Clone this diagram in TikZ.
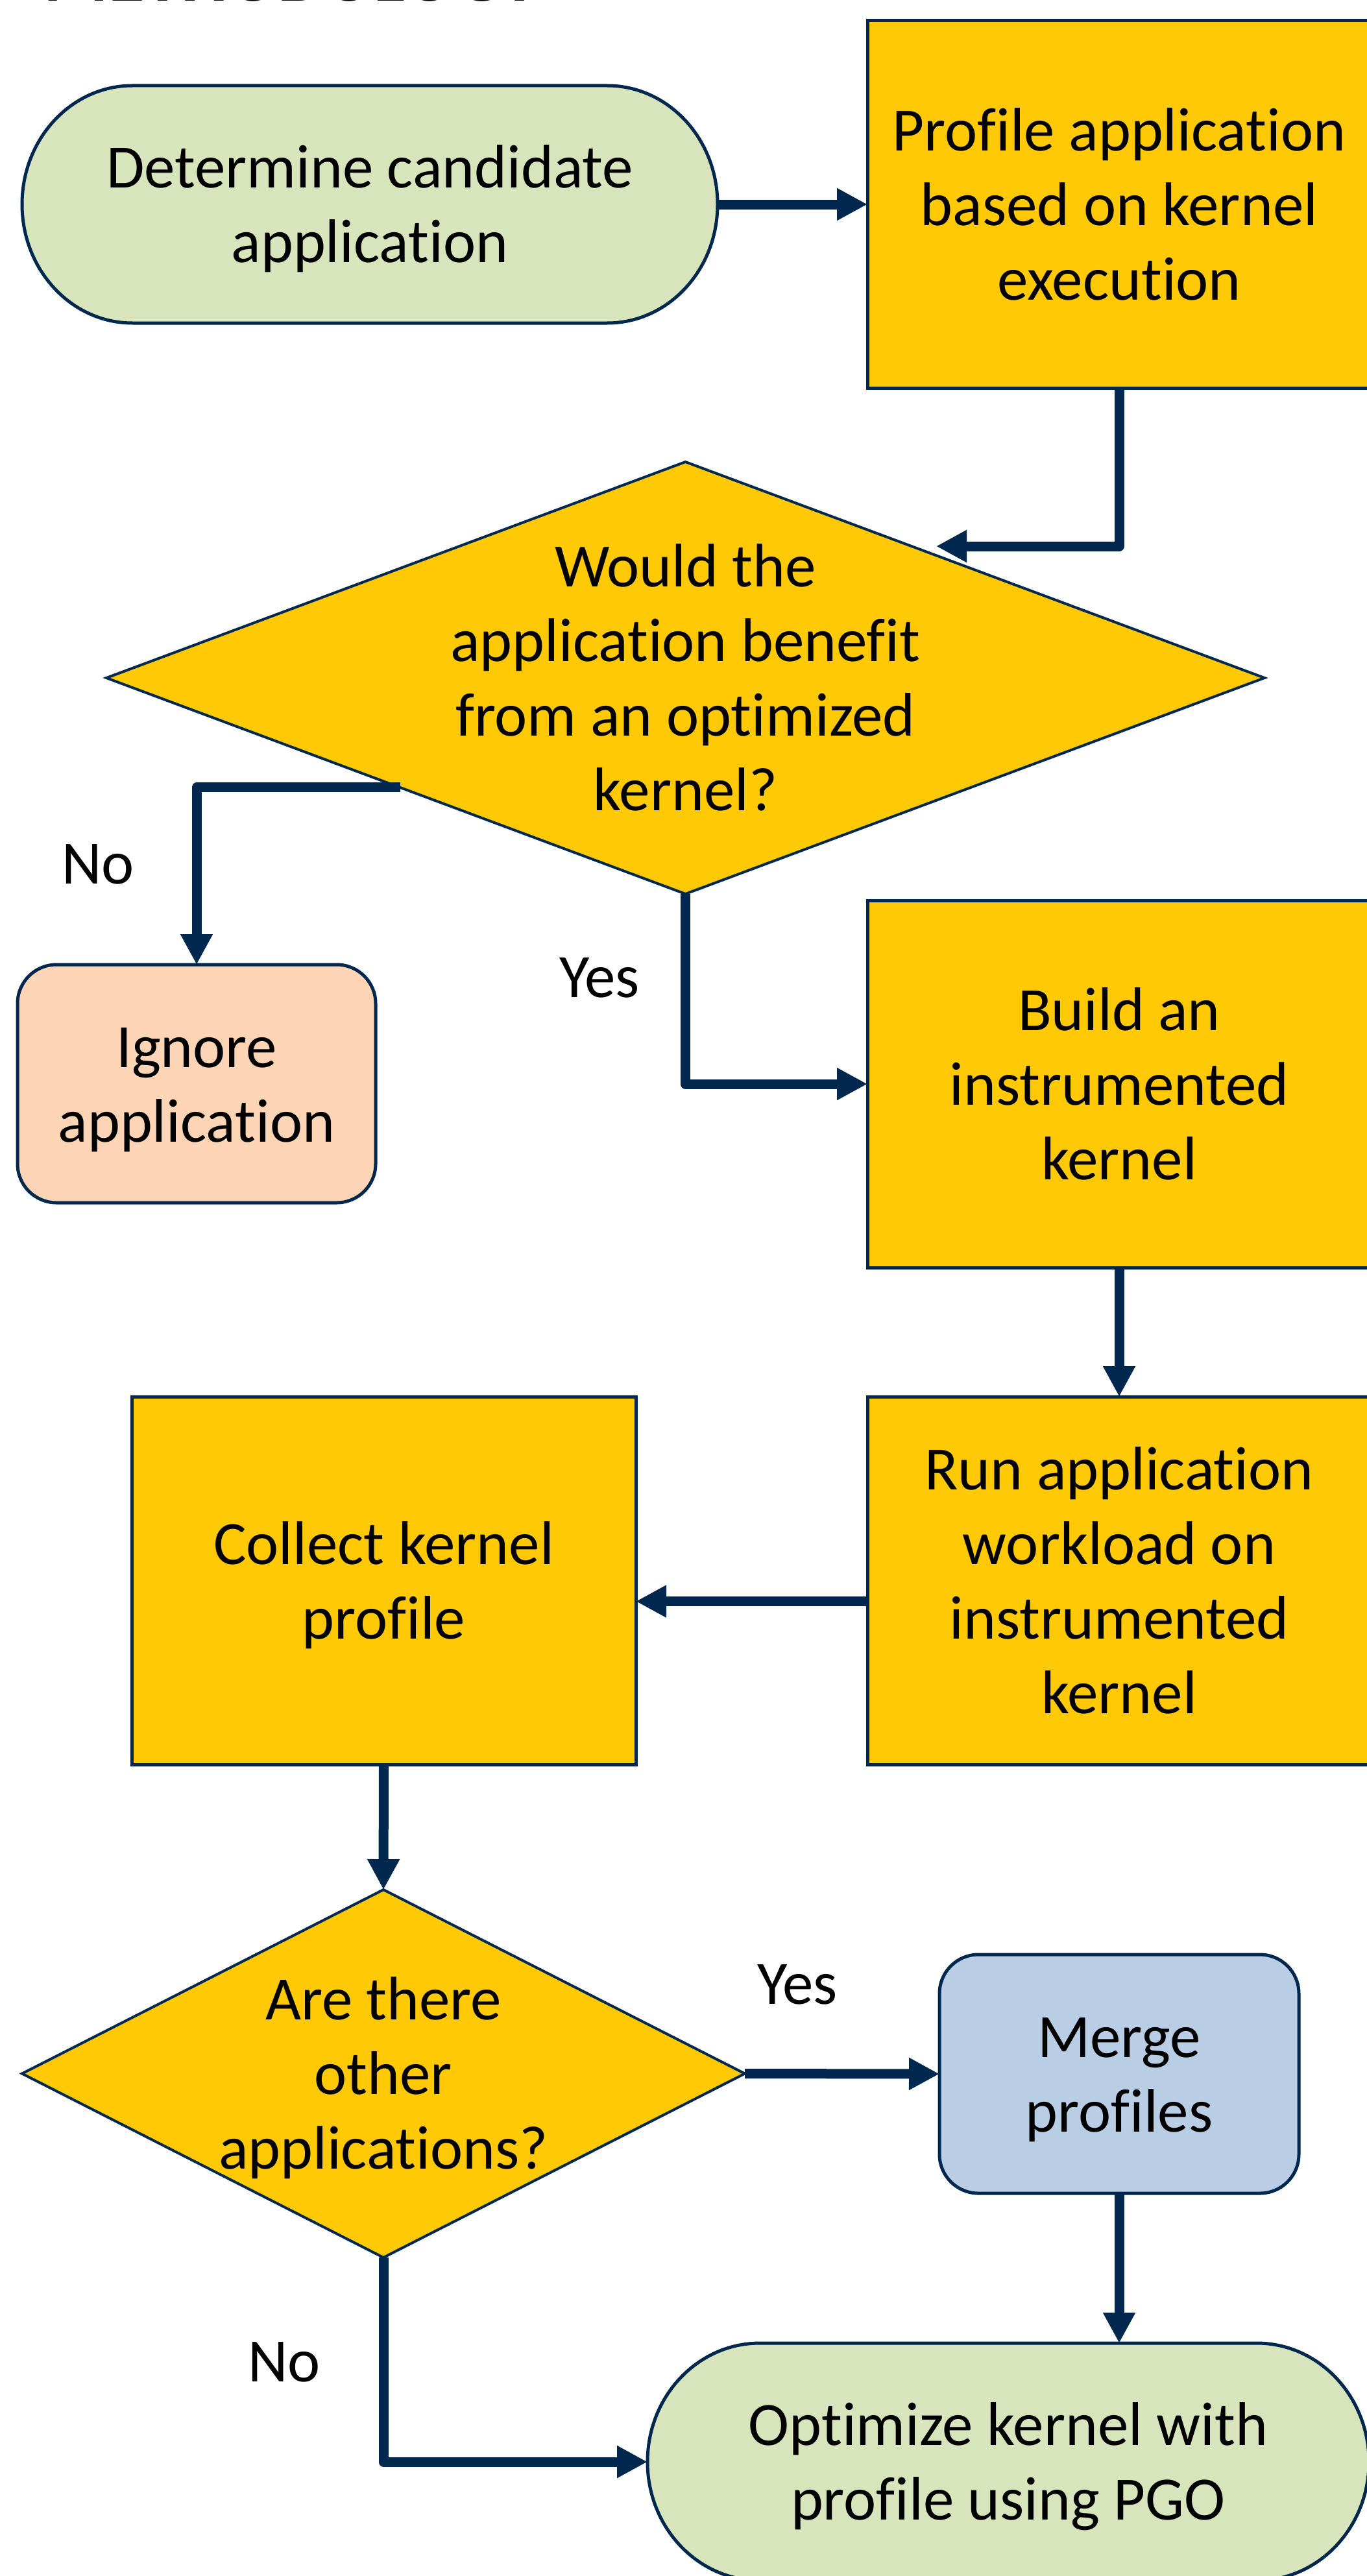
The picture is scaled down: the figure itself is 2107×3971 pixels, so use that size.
\documentclass[tikz,border=0pt]{standalone}
\usepackage{fontspec}
\setmainfont{Carlito}[Ligatures={NoCommon}]
\usetikzlibrary{arrows.meta,shapes.geometric,backgrounds,calc}
\definecolor{gold}{HTML}{FFC906}
\definecolor{sage}{HTML}{D8E4BC}
\definecolor{peach}{HTML}{FBD5B5}
\definecolor{sky}{HTML}{B9CDE5}
\definecolor{navy}{HTML}{00284F}
\newcommand{\ls}{\rule[-12.35pt]{0pt}{57pt}}
\begin{document}
\begin{tikzpicture}[x=0.5pt,y=-0.5pt,
  txt/.style={font=\fontsize{47.5}{57.5}\selectfont, align=center, inner sep=0pt, outer sep=0pt, text=black,
    execute at end node=\ls},
  box/.style={txt, draw=navy, line width=2.5pt, fill=gold, minimum width=388pt, minimum height=283pt},
  rbox/.style={box, rounded corners=30pt},
  term/.style={txt, minimum width=536pt, minimum height=183pt},
  termshape/.style={draw=navy, line width=2.5pt, fill=sage},
  dia/.style={diamond, draw=navy, line width=2pt, fill=gold, inner sep=0pt, outer sep=0pt},
  flow/.style={draw=navy, line width=7.5pt, line join=round, -{Triangle[length=23.5pt,width=23.5pt]}},
  titletxt/.style={font=\fontsize{57}{68}\selectfont\bfseries, inner sep=0pt, anchor=base west, text=black}
]
\useasboundingbox (0,0) rectangle (2107,3971);

\node[titletxt] (title) at (67,1.5) {METHODOLOGY};

% nodes
\node[term] (start) at (570,315) {\ls Determine candidate\\application};
\node[box] (profile) at (1725,315) {\ls Profile application\\based on kernel\\execution};
\node[dia, minimum width=892.5pt, minimum height=333pt] (dec1) at (1056.5,1045) {};
\node[txt] (dec1t) at (dec1.center) {\ls Would the\\application benefit\\from an optimized\\kernel?};
\node[rbox, fill=peach, minimum width=276pt, minimum height=183.5pt] (ignore) at (303,1670.5) {\ls Ignore\\application};
\node[box] (build) at (1725,1671) {\ls Build an\\instrumented\\kernel};
\node[box, minimum height=283.5pt] (run) at (1725,2436.5) {\ls Run application\\workload on\\instrumented\\kernel};
\node[box, minimum width=388.5pt, minimum height=283.5pt] (collect) at (591.5,2436.5) {\ls Collect kernel\\profile};
\node[dia, minimum width=557pt, minimum height=283.5pt] (dec2) at (591,3196.5) {};
\node[txt] (dec2t) at (dec2.center) {\ls Are there\\other\\applications?};
\node[rbox, fill=sky, minimum width=277pt, minimum height=184pt] (merge) at (1725,3197) {\ls Merge\\profiles};
\node[term, minimum width=556pt] (opt) at (1554,3795) {\ls Optimize kernel with\\profile using PGO};

% terminal shapes
\begin{pgfonlayer}{background}
\draw[termshape] ([xshift=85pt]start.north west) -- ([xshift=-85pt]start.north east)
  arc[start angle=90, end angle=-90, x radius=85pt, y radius=91.5pt]
  -- ([xshift=85pt]start.south west)
  arc[start angle=270, end angle=90, x radius=85pt, y radius=91.5pt] -- cycle;
\draw[termshape] ([xshift=86.5pt]opt.north west) -- ([xshift=-86.5pt]opt.north east)
  arc[start angle=90, end angle=-90, x radius=86.5pt, y radius=91.5pt]
  -- ([xshift=86.5pt]opt.south west)
  arc[start angle=270, end angle=90, x radius=86.5pt, y radius=91.5pt] -- cycle;
\end{pgfonlayer}

% connectors
\coordinate (p1) at (1443,842);
\coordinate (n1) at ($(dec1.west)!0.507!(dec1.south)$);
\draw[flow] (start.east) -- (profile.west);
\draw[flow] (profile.south) |- (p1);
\draw[flow] (n1) -| (ignore.north);
\draw[flow] (dec1.south) |- (build.west);
\draw[flow] (build.south) -- (run.north);
\draw[flow] ([yshift=-16pt]run.west) -- ([yshift=-16pt]collect.east);
\draw[flow] (collect.south) -- (dec2.north);
\draw[flow] (dec2.east) -- (merge.west);
\draw[flow] (merge.south) -- (merge.south |- opt.north);
\draw[flow] (dec2.south) |- (opt.west);

% labels
\node[txt] (no1) at (151,1330) {\ls No};
\node[txt] (yes1) at (924,1505) {\ls Yes};
\node[txt] (yes2) at (1229,3057) {\ls Yes};
\node[txt] (no2) at (438,3639) {\ls No};
\end{tikzpicture}
\end{document}
